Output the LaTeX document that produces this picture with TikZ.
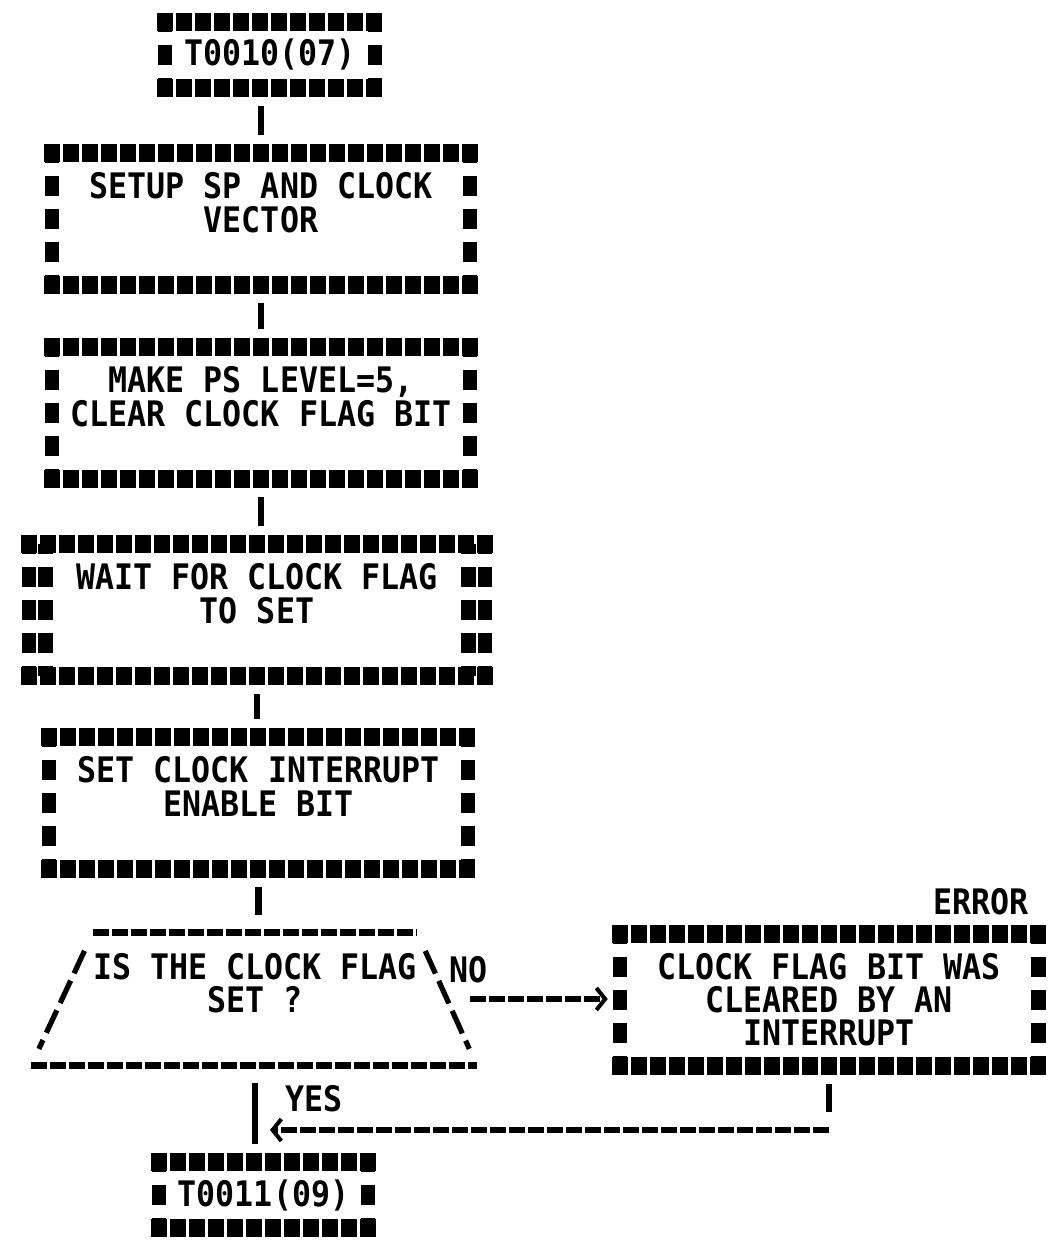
\documentclass[tikz,border=0pt]{standalone}
\usepackage{fontspec}
\setmonofont{DejaVu Sans Mono}[FakeStretch=0.9]
\usepackage{tikz}
\usetikzlibrary{arrows.meta,positioning,calc,shapes.geometric}
\definecolor{ckink}{HTML}{000000}
\newcommand{\ckfont}{\fontsize{25}{23.5}\selectfont\ttfamily\bfseries}
\tikzset{
  ck/box/.style={
    inner sep=0pt, align=center, font=\ckfont, text=ckink
  },
  ck/dec/.style={
    trapezium, trapezium left angle=56.3, trapezium right angle=57.2,
    trapezium stretches body, inner sep=0pt, align=center, font=\ckfont, text=ckink
  },
  ck/lbl/.style={inner sep=0pt, font=\ckfont, text=ckink},
  ck/row/.style={ckink, line width=0.45cm, dash pattern=on 0.4cm off 0.075cm},
  ck/col/.style={ckink, line width=0.36cm, dash pattern=on 0.5cm off 0.325cm, dash phase=0.25cm},
  ck/dash/.style={ckink, line width=0.17cm, dash pattern=on 0.4cm off 0.075cm},
  ck/slope/.style={ckink, line width=0.13cm, dash pattern=on 0.62cm off 0.2cm,
    shorten <=0.5cm, shorten >=0.45cm},
  ck/link/.style={ckink, line width=0.16cm, shorten <=0.45cm, shorten >=0.45cm},
  ck/arr/.style={ck/dash, -{Straight Barb[length=0.22cm, width=0.55cm, line width=0.1cm]}}
}

\begin{document}
\begin{tikzpicture}[font=\ckfont, x=1cm, y=1cm]
  \fill[white] (0,0) rectangle (26.3,31.1);

  % --- Entry ---
  \node[ck/box, minimum width=5.225cm, minimum height=1.65cm] (start) at (6.75,29.725) {T0010(07)};

  % --- Setup steps ---
  \node[ck/box, minimum width=10.45cm, minimum height=3.3cm] (setup) at (6.525,25.625)
    {SETUP SP AND CLOCK\\VECTOR\\\mbox{}};
  \node[ck/box, minimum width=10.45cm, minimum height=3.3cm] (makeps) at (6.525,20.775)
    {MAKE PS LEVEL=5,\\CLEAR CLOCK FLAG BIT\\\mbox{}};
  \node[ck/box, minimum width=11.4cm, minimum height=3.3cm] (wait) at (6.425,15.85)
    {WAIT FOR CLOCK FLAG\\TO SET\\\mbox{}};
  \node[ck/box, minimum width=10.45cm, minimum height=3.3cm] (setint) at (6.4625,11.025)
    {SET CLOCK INTERRUPT\\ENABLE BIT\\\mbox{}};

  % --- Test ---
  \node[ck/dec, minimum width=10.9cm, minimum height=3.3cm] (dec) at (6.375,6.125)
    {IS THE CLOCK FLAG\\SET ?\\\mbox{}};
  \node[ck/box, minimum width=10.45cm, minimum height=3.3cm] (errbox) at (20.725,6.1)
    {CLOCK FLAG BIT WAS\\CLEARED BY AN\\INTERRUPT};
  \node[ck/lbl, above left=0.45cm and 0.225cm of errbox.north east] (errlbl) {ERROR};

  % --- Exit ---
  \node[ck/box, minimum width=5.225cm, minimum height=1.65cm] (endbox) at (6.5875,1.225) {T0011(09)};
  \coordinate (join) at (6.375,2.85);

  % star frames
  \foreach \b in {start,setup,makeps,wait,setint,errbox,endbox} {
    \draw[ck/row] ([xshift=-0.2cm]\b.north west) -- ([xshift=0.2cm]\b.north east);
    \draw[ck/row] ([xshift=-0.2cm]\b.south west) -- ([xshift=0.2cm]\b.south east);
    \draw[ck/col] (\b.north west) -- (\b.south west);
    \draw[ck/col] (\b.north east) -- (\b.south east);
  }
  \draw[ck/col] ([xshift=0.42cm]wait.north west) -- ([xshift=0.42cm]wait.south west);
  \draw[ck/col] ([xshift=-0.42cm]wait.north east) -- ([xshift=-0.42cm]wait.south east);

  % decision outline
  \draw[ck/dash] (dec.top left corner) -- (dec.top right corner);
  \draw[ck/dash] (dec.bottom left corner) -- (dec.bottom right corner);
  \draw[ck/slope] (dec.top left corner) -- (dec.bottom left corner);
  \draw[ck/slope] (dec.top right corner) -- (dec.bottom right corner);

  \draw[ck/link] (setup.north |- start.south) -- (setup.north);
  \draw[ck/link] (setup.south) -- (makeps.north);
  \draw[ck/link] (makeps.south) -- (makeps.south |- wait.north);
  \draw[ck/link] (wait.south) -- (wait.south |- setint.north);
  \draw[ck/link] (setint.south) -- (setint.south |- dec.north);
  \draw[ck/link] (dec.south) -- (dec.south |- endbox.north);
  \draw[ck/arr, shorten <=0.575cm, shorten >=0.3cm] (dec.east) -- (dec.east -| errbox.west);
  \draw[ck/link] (errbox.south) -- (errbox.south |- join);
  \draw[ck/arr, shorten >=0.375cm] (errbox.south |- join) -- (join);

  \node[ck/lbl, below right=0.575cm and 0.8cm of dec.top right corner] (nolbl) {NO};
  \node[ck/lbl, below right=0.5cm and 0.75cm of dec.south] (yeslbl) {YES};
\end{tikzpicture}
\end{document}
